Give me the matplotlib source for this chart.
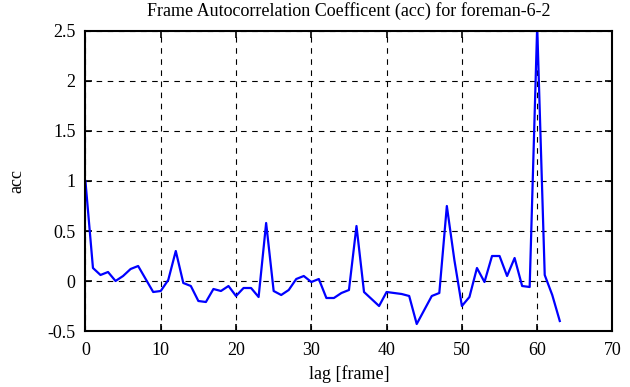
import matplotlib
matplotlib.use("Agg")
import matplotlib.pyplot as plt
import numpy as np

lags = list(range(64))
acc = [1.0, 0.13, 0.06, 0.09, 0.0, 0.05, 0.12, 0.15, 0.02, -0.11,
       -0.10, 0.01, 0.30, -0.02, -0.05, -0.20, -0.21, -0.08, -0.10, -0.05,
       -0.15, -0.07, -0.07, -0.16, 0.58, -0.10, -0.14, -0.09, 0.02, 0.05,
       -0.01, 0.02, -0.17, -0.17, -0.12, -0.09, 0.55, -0.11, -0.18, -0.25,
       -0.11, -0.12, -0.13, -0.15, -0.43, -0.29, -0.15, -0.12, 0.75, 0.21,
       -0.25, -0.16, 0.13, -0.01, 0.25, 0.25, 0.05, 0.23, -0.05, -0.06,
       2.55, 0.06, -0.14, -0.40]
xticks = [0, 10, 20, 30, 40, 50, 60, 70]
yticks = [-0.5, 0, 0.5, 1, 1.5, 2, 2.5]
ytick_labels = ["-0.5", "0", "0.5", "1", "1.5", "2", "2.5"]

plt.rcParams['font.family'] = ['Liberation Serif', 'DejaVu Serif']

fig = plt.figure(figsize=(6.3, 3.87), dpi=100)
ax = fig.add_axes([0.1356, 0.1447, 0.9722 - 0.1356, 0.9199 - 0.1447])
ax.plot(lags, acc, color='#0000ff', lw=1.6)
ax.set_xlim(0, 70)
ax.set_ylim(-0.5, 2.5)
ax.set_xticks(xticks)
ax.set_yticks(yticks)
ax.set_yticklabels(ytick_labels)
ax.grid(True, color='black', linestyle=(0, (5, 5)), linewidth=0.8)
ax.tick_params(direction='in', top=True, right=True, length=5, width=1.2,
               labelsize=13)
ax.tick_params(axis='y', pad=7)
ax.tick_params(axis='x', pad=8)
for s in ax.spines.values():
    s.set_linewidth(1.5)
ax.set_xlabel('lag [frame]', fontsize=13, labelpad=4)
ax.set_ylabel('acc', fontsize=13, labelpad=16)
ax.set_title('Frame Autocorrelation Coefficent (acc) for foreman-6-2', fontsize=13, pad=11)
fig.savefig('out.png', dpi=100)
